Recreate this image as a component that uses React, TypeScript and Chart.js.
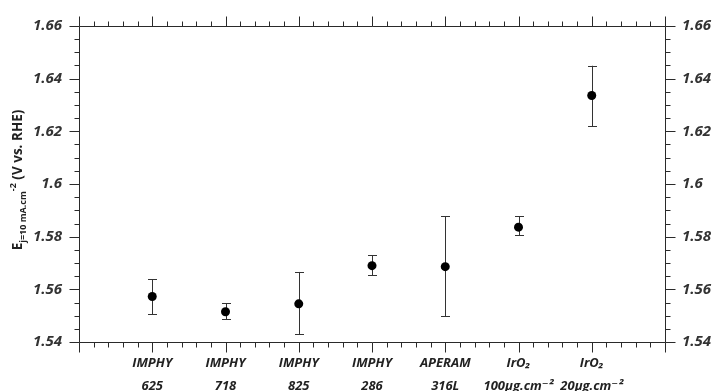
import React, { useEffect, useRef } from "react";
import { Chart, registerables } from "chart.js";

Chart.register(...registerables);

const labelLine1 = ["IMPHY", "IMPHY", "IMPHY", "IMPHY", "APERAM", "IrO₂", "IrO₂"];
const labelLine2 = ["625", "718", "825", "286", "316L", "100µg.cm⁻²", "20µg.cm⁻²"];
const values = [1.5573, 1.5515, 1.5545, 1.569, 1.5686, 1.5836, 1.6336];
const errHigh = [1.5639, 1.5548, 1.5666, 1.5729, 1.5878, 1.5878, 1.6449];
const errLow = [1.5505, 1.5486, 1.543, 1.5653, 1.5497, 1.5805, 1.6219];
const yMin = 1.54;
const yMax = 1.66;
const yStep = 0.02;
const xMin = 0;
const xMax = 8;

const FONT = "'Open Sans', 'DejaVu Sans', sans-serif";
const AXIS_COLOR = "#2a2a2a";

const errorBarPlugin = {
  id: "errorBars",
  beforeDatasetsDraw(chart: any) {
    const ctx = chart.ctx;
    const xs = chart.scales.x;
    const ys = chart.scales.y;
    ctx.save();
    ctx.strokeStyle = "#333";
    ctx.lineWidth = 1;
    values.forEach((_, i) => {
      const px = Math.round(xs.getPixelForValue(i + 1)) + 0.5;
      const hi = ys.getPixelForValue(errHigh[i]);
      const lo = ys.getPixelForValue(errLow[i]);
      ctx.beginPath();
      ctx.moveTo(px, hi);
      ctx.lineTo(px, lo);
      ctx.moveTo(px - 4.5, Math.round(hi) + 0.5);
      ctx.lineTo(px + 4.5, Math.round(hi) + 0.5);
      ctx.moveTo(px - 4.5, Math.round(lo) + 0.5);
      ctx.lineTo(px + 4.5, Math.round(lo) + 0.5);
      ctx.stroke();
    });
    ctx.restore();
  },
};

const framePlugin = {
  id: "frameTicks",
  afterDraw(chart: any) {
    const ctx = chart.ctx;
    const xs = chart.scales.x;
    const ys = chart.scales.y;
    const a = chart.chartArea;
    const L = Math.round(a.left) + 0.5;
    const R = Math.round(a.right) + 0.5;
    const T = Math.round(a.top) + 0.5;
    const B = Math.round(a.bottom) + 0.5;
    ctx.save();
    ctx.strokeStyle = AXIS_COLOR;
    ctx.lineWidth = 1;
    ctx.beginPath();
    ctx.rect(L, T, R - L, B - T);
    const xCount = (xMax - xMin) * 5;
    for (let i = 0; i <= xCount; i++) {
      const v = xMin + i / 5;
      const major = i % 5 === 0;
      const len = major ? 10 : 5;
      const px = Math.round(xs.getPixelForValue(v)) + 0.5;
      ctx.moveTo(px, B);
      ctx.lineTo(px, B + len);
      ctx.moveTo(px, T);
      ctx.lineTo(px, T - len);
    }
    const yCount = Math.round((yMax - yMin) / 0.005);
    for (let i = 0; i <= yCount; i++) {
      const v = yMin + i * 0.005;
      const major = i % 4 === 0;
      const len = major ? 10 : 5;
      const py = Math.round(ys.getPixelForValue(v)) + 0.5;
      ctx.moveTo(L, py);
      ctx.lineTo(L - len, py);
      ctx.moveTo(R, py);
      ctx.lineTo(R + len, py);
    }
    ctx.stroke();

    const cy = (a.top + a.bottom) / 2 - 4;
    const parts = [
      { t: "E", size: 13.5, dy: 0 },
      { t: "j=10 mA.cm", size: 9, dy: 3.5 },
      { t: "-2", size: 9, dy: -6 },
      { t: " (V vs. RHE)", size: 13.5, dy: 0 },
    ];
    let total = 0;
    const widths: number[] = [];
    parts.forEach((p) => {
      ctx.font = `bold ${p.size}px ${FONT}`;
      const w = ctx.measureText(p.t).width;
      widths.push(w);
      total += w;
    });
    ctx.translate(22, cy);
    ctx.rotate(-Math.PI / 2);
    ctx.fillStyle = "#222";
    ctx.textBaseline = "alphabetic";
    ctx.textAlign = "left";
    let x = -total / 2;
    parts.forEach((p, i) => {
      ctx.font = `bold ${p.size}px ${FONT}`;
      ctx.fillText(p.t, x, p.dy);
      x += widths[i];
    });
    ctx.restore();
  },
};

export default function App() {
  const ref = useRef<HTMLCanvasElement | null>(null);
  useEffect(() => {
    if (!ref.current) return;
    const yTickCb = (v: any) => {
      const n = Number(v);
      const k = Math.round((n - yMin) / yStep);
      if (Math.abs(n - (yMin + k * yStep)) > 1e-6) return "";
      return Number(n.toFixed(2)).toString();
    };
    const tickFont = { family: FONT, size: 15, weight: "bold" as const, style: "italic" as const };
    const chart = new Chart(ref.current, {
      type: "scatter",
      data: {
        datasets: [
          {
            data: values.map((v, i) => ({ x: i + 1, y: v })),
            pointRadius: 4.5,
            pointHoverRadius: 4.5,
            backgroundColor: "#000",
            borderWidth: 0,
            showLine: false,
          },
        ],
      },
      options: {
        responsive: false,
        animation: false,
        layout: { padding: { top: 22, left: 0, right: 0, bottom: 0 } },
        plugins: { legend: { display: false }, tooltip: { enabled: false } },
        scales: {
          x: {
            type: "linear",
            position: "bottom",
            min: xMin,
            max: xMax,
            grid: { display: false, drawTicks: false },
            border: { display: false },
            afterFit: (s: any) => {
              s.height = 49;
            },
            afterBuildTicks: (s: any) => {
              const t = [];
              for (let i = xMin; i <= xMax; i++) t.push({ value: i });
              s.ticks = t;
            },
            ticks: {
              autoSkip: false,
              maxRotation: 0,
              padding: 10,
              color: "#222",
              font: { family: FONT, size: 13, weight: "bold", style: "italic", lineHeight: 1.75 },
              callback: (v: any) => {
                const i = Math.round(Number(v)) - 1;
                if (i < 0 || i >= labelLine1.length) return "";
                return [labelLine1[i], labelLine2[i]];
              },
            },
          },
          y: {
            type: "linear",
            position: "left",
            min: yMin,
            max: yMax,
            grid: { display: false, drawTicks: false },
            border: { display: false },
            afterFit: (s: any) => {
              s.width = 79;
            },
            ticks: { stepSize: yStep, padding: 17, color: "#333", font: tickFont, callback: yTickCb },
          },
          y2: {
            type: "linear",
            position: "right",
            min: yMin,
            max: yMax,
            grid: { display: false, drawTicks: false },
            border: { display: false },
            afterFit: (s: any) => {
              s.width = 49;
            },
            ticks: { stepSize: yStep, padding: 17, color: "#333", font: tickFont, callback: yTickCb },
          },
        },
      },
      plugins: [errorBarPlugin, framePlugin],
    } as any);
    return () => chart.destroy();
  }, []);
  return (
    <div style={{ position: "absolute", left: 0, top: 0, width: 714, height: 391, background: "#fff" }}>
      <canvas ref={ref} width={714} height={391} style={{ display: "block" }} />
    </div>
  );
}
